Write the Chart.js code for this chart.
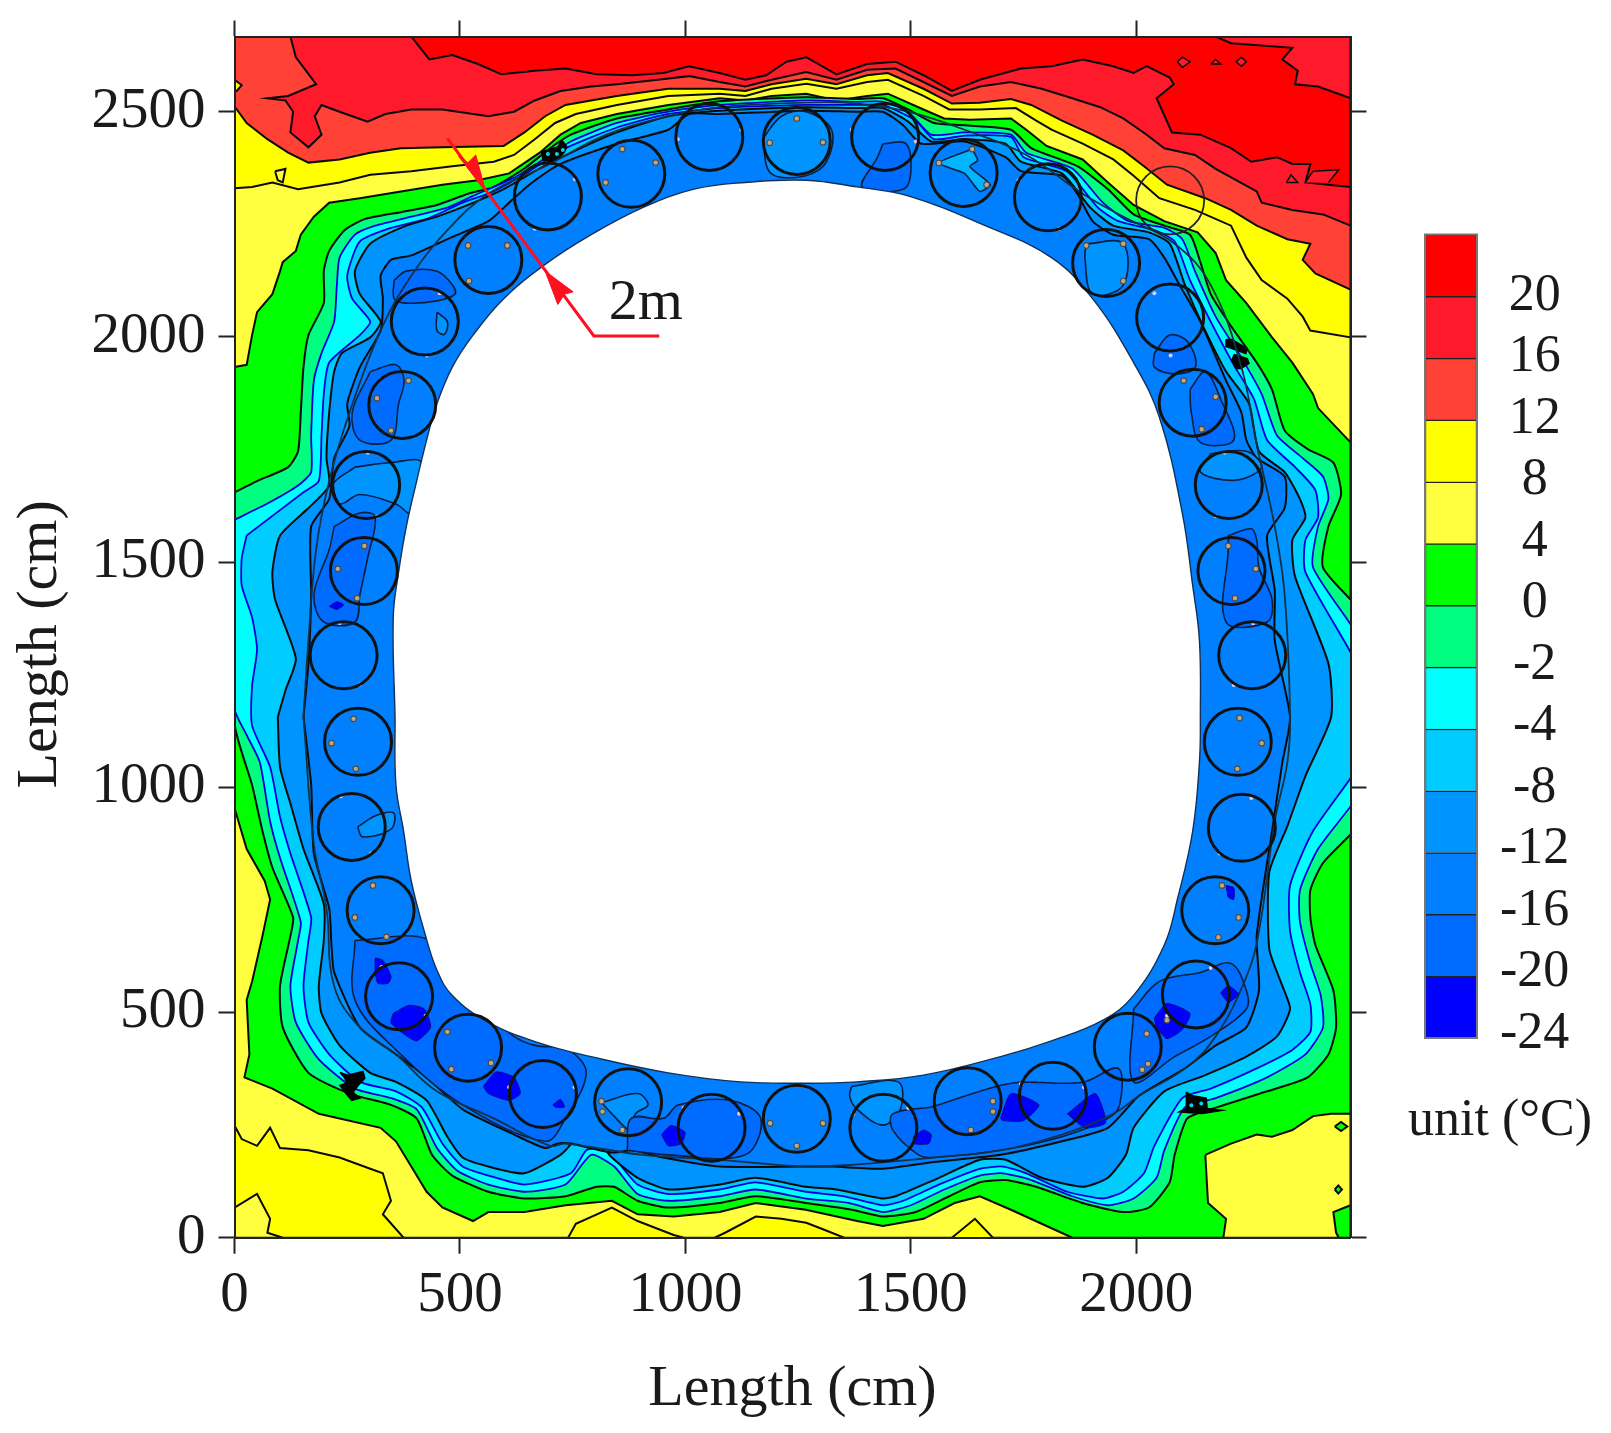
<!DOCTYPE html>
<html lang="en">
  <head>
    <meta charset="UTF-8" />
    <title>Frozen wall temperature contour</title>
    <script src="https://cdn.jsdelivr.net/npm/chart.js@4"></script>
    <style>
      body { margin: 0; background: #fff; }
      #page { position: relative; width: 1611px; height: 1433px; overflow: hidden; }
      #contour { position: absolute; left: 0; top: 0; }
      #scaleBar { position: absolute; left: 1400px; top: 220px; }
      #unit {
        position: absolute; left: 1408px; top: 1088px; white-space: nowrap;
        font: 52px "Liberation Serif", serif; color: #1a1a1a;
      }
    </style>
  </head>
  <body>
    <div id="page">
      <canvas id="contour" width="1611" height="1433"></canvas>
      <canvas id="scaleBar" width="211" height="830"></canvas>
      <div id="unit">unit (°C)</div>
    </div>

    <script>
      // axis and legend values
      const xTicks = [0, 500, 1000, 1500, 2000];
      const yTicks = [0, 500, 1000, 1500, 2000, 2500];
      const xMax = 2475;
      const yMax = 2667;
      const bandLabels = ["20", "16", "12", "8", "4", "0", "-2", "-4", "-8", "-12", "-16", "-20", "-24"];
      const bandColors = ["#ff0000", "#ff1a2b", "#ff4136", "#ffff00", "#ffff40", "#00ff00", "#00ff80", "#00ffff", "#00ccff", "#0094ff", "#0080ff", "#006cff", "#0000ff"];

      // isotherm outlines in cm
      const frame = [[0,0],[2475,0],[2475,2667],[0,2667],[0,0]];
      const iso16 = [[392,2667],[432,2616],[483,2626],[540,2606],[592,2583],[666,2591],[734,2596],[803,2583],[882,2581],[951,2586],[1008,2601],[1076,2586],[1133,2571],[1179,2581],[1224,2611],[1268,2621],[1335,2583],[1403,2606],[1466,2611],[1528,2581],[1591,2546],[1653,2571],[1744,2596],[1812,2601],[1881,2616],[1949,2601],[1994,2586],[2023,2601],[2074,2576],[2083,2561],[2045,2530],[2079,2454],[2142,2449],[2210,2419],[2255,2389],[2312,2399],[2346,2384],[2386,2384],[2375,2343],[2475,2333],[2475,0],[0,0],[0,2667]];
      const iso16Corner = [[2176,2667],[2210,2652],[2346,2642],[2324,2616],[2358,2591],[2352,2561],[2403,2556],[2475,2530],[2475,2667]];
      const iso16Specks = [[[2091,2611],[2102,2621],[2119,2611],[2102,2598],[2091,2611]], [[2165,2606],[2176,2616],[2187,2606],[2165,2606]], [[2221,2611],[2233,2621],[2244,2611],[2233,2601],[2221,2611]], [[2333,2343],[2343,2360],[2358,2343],[2333,2343]], [[2375,2343],[2392,2368],[2449,2371],[2426,2343]]];
      const iso12 = [[124,2667],[136,2621],[181,2561],[119,2535],[73,2530],[113,2525],[130,2500],[124,2454],[164,2421],[193,2449],[178,2490],[193,2515],[233,2500],[295,2478],[335,2495],[392,2505],[461,2505],[563,2490],[620,2500],[666,2525],[723,2546],[791,2556],[848,2561],[939,2571],[1008,2579],[1076,2566],[1133,2556],[1191,2571],[1268,2588],[1335,2571],[1403,2593],[1466,2596],[1528,2566],[1591,2535],[1653,2556],[1722,2566],[1790,2551],[1858,2530],[1920,2510],[1971,2485],[2023,2449],[2062,2419],[2130,2404],[2176,2373],[2267,2323],[2278,2298],[2346,2282],[2414,2272],[2475,2247],[2475,0],[0,0],[0,2667]];
      const iso8 = [[0,2512],[27,2475],[73,2439],[119,2409],[164,2387],[233,2394],[301,2409],[369,2419],[461,2421],[597,2424],[643,2454],[689,2490],[734,2515],[848,2535],[962,2551],[1076,2551],[1133,2546],[1191,2561],[1268,2573],[1335,2561],[1403,2581],[1449,2586],[1528,2551],[1591,2518],[1653,2520],[1722,2528],[1767,2515],[1835,2480],[1903,2449],[1971,2414],[2017,2379],[2068,2338],[2153,2308],[2210,2282],[2267,2247],[2335,2217],[2386,2207],[2369,2171],[2397,2141],[2475,2105],[2475,0],[0,0],[0,2512]];
      const iso8Speck = [[0,2571],[16,2559],[5,2546],[0,2546]];
      const iso4 = [[0,2330],[39,2333],[84,2343],[141,2328],[233,2343],[301,2360],[392,2368],[483,2379],[575,2389],[620,2404],[666,2439],[711,2475],[757,2495],[848,2515],[962,2535],[1076,2540],[1133,2535],[1191,2551],[1268,2562],[1335,2551],[1403,2566],[1449,2571],[1528,2535],[1585,2505],[1653,2505],[1733,2508],[1778,2480],[1812,2460],[1881,2429],[1949,2394],[1994,2358],[2051,2308],[2130,2282],[2210,2247],[2244,2176],[2278,2126],[2335,2085],[2369,2045],[2386,2014],[2475,1999],[2475,0],[0,0],[0,2330]];
      const iso4Speck = [[90,2368],[113,2373],[107,2343],[96,2348],[90,2368]];
      const warmLeft = [[0,249],[16,219],[50,204],[79,244],[101,199],[164,194],[233,178],[301,153],[329,143],[347,82],[329,52],[375,0],[107,0],[73,11],[79,42],[50,97],[0,67]];
      const warmMid1 = [[740,0],[757,31],[837,67],[894,37],[974,6],[996,0]];
      const warmMid2 = [[1065,0],[1088,11],[1156,47],[1213,42],[1268,33],[1312,16],[1352,0]];
      const warmMid3 = [[1591,0],[1642,42],[1682,0]];
      const iso0 = [[0,1933],[27,1938],[39,2004],[50,2055],[84,2095],[101,2146],[107,2166],[136,2191],[147,2227],[176,2267],[210,2298],[278,2308],[369,2323],[461,2338],[540,2348],[609,2363],[677,2409],[723,2449],[768,2475],[848,2495],[962,2515],[1076,2530],[1133,2525],[1191,2535],[1268,2540],[1335,2525],[1403,2535],[1449,2540],[1528,2505],[1574,2485],[1631,2482],[1722,2485],[1756,2460],[1801,2424],[1881,2394],[1937,2343],[1994,2293],[2062,2257],[2136,2232],[2176,2186],[2199,2126],[2244,2075],[2301,1999],[2346,1943],[2392,1873],[2403,1842],[2475,1766],[2475,0],[1858,0],[1801,26],[1722,62],[1653,92],[1597,77],[1528,42],[1438,26],[1381,37],[1267,62],[1156,77],[1076,57],[974,47],[894,52],[837,82],[734,72],[643,57],[563,57],[529,37],[461,67],[426,102],[392,158],[358,214],[324,244],[187,275],[84,331],[22,356],[33,407],[27,528],[39,569],[62,670],[79,751],[67,792],[27,863],[0,954],[0,1933]];
      const warmRight = [[2153,184],[2210,209],[2267,229],[2301,224],[2346,239],[2392,270],[2432,275],[2475,275],[2475,72],[2437,57],[2443,11],[2449,0],[2193,0],[2199,42],[2159,77],[2153,184]];
      const greenSpeck1 = [[2440,247],[2454,257],[2468,247],[2454,237],[2440,247]];
      const greenSpeck2 = [[2440,107],[2448,116],[2456,107],[2448,98],[2440,107]];
      const isoM2 = [[0,1655],[50,1680],[119,1711],[141,1746],[147,1832],[153,1933],[164,2004],[198,2075],[198,2146],[210,2191],[244,2237],[290,2262],[369,2277],[449,2293],[518,2318],[575,2333],[643,2374],[700,2419],[746,2449],[848,2485],[962,2505],[1076,2523],[1268,2532],[1381,2528],[1438,2530],[1494,2505],[1551,2475],[1619,2470],[1722,2460],[1767,2419],[1869,2379],[1937,2328],[1994,2272],[2062,2247],[2119,2227],[2142,2166],[2165,2095],[2210,2024],[2267,1943],[2301,1883],[2329,1792],[2380,1751],[2437,1721],[2454,1650],[2426,1579],[2414,1488],[2520,1356],[2520,955],[2414,832],[2386,772],[2386,711],[2397,650],[2437,549],[2443,467],[2426,407],[2380,356],[2290,325],[2165,285],[2113,265],[2085,184],[2074,123],[2028,67],[1971,57],[1881,77],[1778,113],[1710,128],[1653,123],[1585,92],[1511,57],[1438,47],[1369,62],[1267,77],[1156,92],[1076,77],[962,67],[894,82],[842,113],[803,113],[734,92],[643,87],[563,102],[483,138],[438,184],[404,265],[347,295],[255,320],[164,366],[107,467],[101,559],[124,670],[130,711],[84,822],[62,903],[39,1005],[0,1142],[0,1655]];
      const isoM4 = [[0,1594],[73,1630],[141,1670],[170,1700],[170,1781],[176,1903],[193,1964],[221,2034],[227,2115],[233,2176],[267,2227],[312,2247],[392,2267],[472,2287],[529,2313],[620,2353],[677,2389],[746,2434],[848,2475],[962,2500],[1076,2515],[1268,2525],[1381,2522],[1438,2522],[1494,2500],[1545,2449],[1619,2454],[1722,2449],[1756,2409],[1858,2374],[1926,2298],[1983,2257],[2062,2242],[2102,2217],[2130,2146],[2176,2045],[2233,1954],[2278,1873],[2312,1781],[2369,1731],[2414,1690],[2426,1640],[2403,1579],[2392,1488],[2520,1285],[2520,1029],[2403,863],[2363,772],[2363,701],[2386,609],[2409,538],[2414,467],[2375,407],[2290,356],[2176,310],[2108,290],[2062,194],[2045,133],[1994,87],[1937,72],[1858,92],[1767,128],[1704,143],[1653,138],[1574,107],[1500,72],[1438,57],[1364,77],[1267,87],[1156,107],[1076,92],[962,82],[894,97],[842,158],[791,184],[734,118],[643,102],[563,118],[495,148],[449,199],[404,285],[347,310],[267,331],[187,396],[136,478],[124,559],[141,660],[147,701],[101,843],[79,924],[56,1056],[27,1116],[0,1175],[0,1594]];
      const isoM8 = [[27,1559],[153,1655],[187,1680],[193,1781],[198,1873],[210,1943],[278,2004],[301,2034],[261,2085],[250,2136],[278,2212],[347,2242],[426,2262],[506,2298],[575,2323],[654,2368],[734,2419],[848,2465],[962,2495],[1076,2508],[1268,2515],[1381,2515],[1438,2515],[1511,2480],[1551,2439],[1619,2447],[1722,2444],[1750,2399],[1846,2368],[1915,2287],[1960,2257],[2040,2237],[2085,2212],[2119,2126],[2165,2034],[2216,1938],[2261,1862],[2290,1771],[2352,1711],[2397,1660],[2403,1599],[2375,1549],[2375,1478],[2520,1214],[2520,1091],[2392,903],[2341,782],[2341,680],[2363,589],[2386,518],[2386,457],[2346,417],[2267,376],[2165,331],[2102,310],[2040,204],[2017,143],[1971,102],[1926,87],[1847,102],[1756,143],[1704,158],[1653,153],[1562,118],[1483,82],[1438,72],[1352,92],[1267,102],[1156,123],[1076,107],[962,97],[894,118],[842,178],[814,199],[780,194],[746,143],[643,118],[563,138],[506,158],[461,209],[415,290],[358,325],[278,346],[210,407],[164,478],[153,559],[164,660],[170,711],[124,853],[101,934],[79,1045],[39,1137],[39,1225],[50,1306],[39,1377],[16,1448],[16,1508],[27,1559]];
      const isoM12 = [[96,1156],[113,1215],[136,1286],[90,1417],[84,1478],[101,1559],[164,1620],[210,1670],[204,1731],[210,1832],[221,1923],[238,1964],[301,1999],[324,2034],[278,2095],[267,2146],[301,2207],[381,2247],[449,2267],[518,2293],[597,2328],[677,2374],[757,2414],[848,2454],[962,2490],[1076,2502],[1268,2510],[1381,2508],[1438,2508],[1494,2478],[1545,2434],[1619,2439],[1710,2429],[1744,2389],[1835,2363],[1898,2287],[1949,2247],[2028,2232],[2074,2207],[2108,2115],[2148,2024],[2199,1923],[2250,1852],[2272,1746],[2329,1700],[2363,1640],[2375,1599],[2346,1549],[2352,1468],[2426,1275],[2432,1156],[2375,1025],[2335,914],[2295,812],[2295,640],[2324,559],[2341,508],[2312,447],[2244,402],[2153,361],[2062,325],[1994,244],[1977,184],[1937,133],[1881,113],[1790,133],[1710,173],[1653,173],[1551,128],[1466,92],[1438,87],[1335,107],[1267,113],[1156,133],[1076,118],[962,107],[894,133],[837,178],[814,209],[791,280],[768,280],[746,209],[723,184],[643,143],[563,158],[506,178],[472,224],[426,305],[358,346],[301,366],[233,427],[193,498],[187,559],[198,660],[198,741],[153,863],[124,964],[101,1045],[96,1156]];
      const isoM16 = [[153,1156],[164,1275],[170,1427],[170,1579],[210,1640],[221,1731],[255,1802],[250,1852],[278,1933],[324,2014],[329,2085],[324,2136],[347,2171],[392,2181],[483,2222],[563,2257],[609,2298],[654,2338],[723,2384],[848,2429],[962,2460],[1008,2495],[1076,2495],[1268,2502],[1381,2500],[1438,2500],[1483,2470],[1523,2429],[1619,2434],[1710,2399],[1744,2368],[1835,2358],[1869,2318],[1903,2257],[1949,2227],[2028,2217],[2062,2176],[2096,2115],[2142,2034],[2199,1903],[2233,1832],[2244,1771],[2267,1731],[2329,1690],[2329,1620],[2290,1559],[2307,1437],[2307,1326],[2341,1156],[2324,1056],[2301,903],[2267,670],[2272,549],[2244,467],[2176,427],[2108,376],[2006,315],[1937,244],[1835,214],[1699,184],[1551,168],[1438,153],[1324,158],[1267,158],[1076,158],[951,178],[882,194],[837,189],[746,209],[717,209],[689,199],[620,229],[506,285],[426,356],[358,407],[278,467],[221,589],[215,650],[210,731],[176,853],[170,1005],[153,1156]];
      const lightPatches = [
        [[267,1711],[347,1721],[415,1721],[392,1609],[358,1629],[278,1650],[233,1629],[216,1670],[267,1711]],
        [[1171,2439],[1213,2490],[1268,2500],[1324,2460],[1313,2389],[1267,2358],[1190,2363],[1171,2439]],
        [[2165,1741],[2244,1746],[2278,1711],[2221,1682],[2142,1700],[2165,1741]],
        [[1889,2207],[1971,2207],[1971,2115],[1903,2095],[1886,2176],[1889,2207]],
        [[1369,336],[1472,346],[1477,285],[1438,250],[1381,285],[1364,315],[1369,336]],
        [[814,300],[894,320],[917,295],[889,275],[877,239],[837,275],[814,300]],
        [[273,912],[313,937],[353,943],[347,907],[284,890],[273,912]],
        [[449,2055],[472,2034],[466,2006],[449,2014],[449,2055]]
      ];
      const paleSpot = [[1636,2417],[1648,2392],[1631,2378],[1676,2338],[1653,2323],[1619,2363],[1562,2386],[1636,2417]];
      const darkPatches = [
        [[354,2126],[381,2146],[449,2146],[483,2116],[489,2095],[449,2080],[381,2075],[354,2085],[354,2126]],
        [[301,1923],[358,1938],[376,1903],[364,1852],[347,1771],[278,1771],[261,1832],[301,1923]],
        [[221,1579],[278,1609],[312,1601],[295,1508],[278,1427],[267,1367],[198,1367],[176,1427],[210,1528],[221,1579]],
        [[2204,1559],[2255,1574],[2267,1549],[2272,1488],[2301,1417],[2290,1367],[2199,1367],[2204,1529],[2204,1559]],
        [[2119,1883],[2153,1923],[2187,1862],[2216,1771],[2142,1766],[2122,1832],[2119,1883]],
        [[2040,1964],[2074,2004],[2114,1989],[2131,1933],[2085,1918],[2040,1933],[2040,1964]],
        [[1438,2429],[1489,2429],[1500,2368],[1483,2328],[1392,2333],[1426,2399],[1438,2429]],
        [[871,194],[962,184],[1133,184],[1167,265],[1099,305],[985,295],[951,265],[880,265],[871,194]],
        [[1545,290],[1687,335],[1744,345],[1881,345],[1960,376],[1963,295],[1937,265],[1835,224],[1699,194],[1551,178],[1517,184],[1460,239],[1460,275],[1545,290]],
        [[267,660],[426,663],[461,579],[620,447],[666,427],[740,417],[780,366],[734,265],[689,214],[506,295],[358,417],[267,528],[267,660]],
        [[1994,508],[2051,569],[2142,589],[2210,609],[2244,549],[2244,508],[2165,447],[2085,402],[1994,346],[1994,508]]
      ];
      const coldSpots = [
        [[312,621],[329,616],[347,580],[341,565],[318,565],[312,590],[312,621]],
        [[352,498],[387,516],[421,508],[435,467],[404,437],[376,452],[347,477],[352,498]],
        [[552,336],[580,368],[620,356],[634,320],[609,305],[563,320],[552,336]],
        [[706,295],[723,307],[732,290],[711,290],[706,295]],
        [[947,229],[968,249],[999,234],[991,209],[962,204],[947,229]],
        [[210,1402],[227,1412],[242,1405],[227,1395],[210,1402]],
        [[1506,224],[1528,239],[1545,229],[1540,209],[1506,209],[1506,224]],
        [[1699,265],[1722,320],[1784,295],[1750,260],[1704,260],[1699,265]],
        [[1847,275],[1909,320],[1932,255],[1886,244],[1847,275]],
        [[2040,488],[2068,520],[2119,498],[2102,462],[2068,442],[2045,467],[2040,488]],
        [[2187,544],[2204,559],[2227,541],[2204,523],[2187,544]],
        [[2199,782],[2216,777],[2216,751],[2204,756],[2199,782]]
      ];
      // spots where the plotting program piled its contour labels on top of each other
      const smudges = [
        [[234,367],[251,361],[285,369],[289,354],[274,338],[263,323],[278,310],[260,305],[245,323],[234,338],[249,343],[245,354],[234,367]],
        [[2199,1994],[2212,1994],[2246,1974],[2243,1963],[2212,1974],[2201,1978],[2199,1994]],
        [[2217,1961],[2246,1952],[2250,1941],[2232,1930],[2221,1930],[2212,1949],[2217,1961]],
        [[681,2411],[717,2422],[726,2437],[737,2422],[732,2411],[726,2404],[706,2388],[684,2393],[681,2411]],
        [[2111,323],[2122,316],[2155,310],[2157,287],[2190,283],[2146,276],[2095,279],[2111,287],[2111,323]]
      ];
      const smudgeGaps = [[695,2406],[715,2406],[728,2415],[2122,294],[2144,298]];
      const tunnelHole = [[356,1157],[352,1377],[364,1478],[381,1579],[404,1680],[426,1771],[449,1852],[483,1933],[529,2004],[597,2085],[689,2161],[791,2227],[905,2287],[1019,2328],[1133,2343],[1268,2348],[1381,2333],[1494,2313],[1665,2247],[1812,2176],[1903,2085],[1994,1943],[2051,1822],[2102,1609],[2125,1448],[2140,1326],[2142,1156],[2140,1056],[2125,903],[2091,751],[2062,650],[1994,538],[1926,483],[1812,437],[1699,402],[1528,361],[1381,346],[1267,343],[1122,346],[962,366],[791,402],[677,432],[563,478],[483,538],[449,594],[421,680],[392,792],[375,903],[358,1005],[356,1157]];
      const archLine = [[153,1157],[164,1326],[181,1528],[210,1680],[255,1832],[324,2014],[392,2136],[472,2237],[563,2318],[689,2379],[825,2449],[962,2490],[1076,2510],[1268,2520],[1381,2518],[1494,2500],[1619,2460],[1756,2404],[1881,2318],[1971,2267],[2085,2207],[2165,2115],[2233,1933],[2267,1761],[2307,1579],[2329,1427],[2341,1156],[2335,1056],[2307,924],[2272,680],[2244,579],[2176,447],[2108,376],[2006,315],[1949,275],[1835,229],[1699,194],[1551,178],[1381,163],[1267,158],[1076,173],[905,184],[734,209],[700,204],[575,265],[449,325],[358,407],[278,467],[221,559],[204,731],[176,873],[153,1157]];

      // freeze pipes and the sensor holes next to them
      const pipes = [[1053,2444],[1247,2435],[1443,2444],[1617,2364],[1804,2310],[1933,2164],[2075,2043],[2125,1854],[2205,1671],[2211,1480],[2257,1293],[2225,1101],[2234,910],[2175,727],[2132,540],[1981,424],[1815,315],[1626,303],[1439,244],[1247,264],[1058,244],[873,301],[684,319],[518,422],[365,536],[324,727],[260,912],[274,1101],[242,1293],[287,1480],[292,1671],[372,1849],[422,2034],[563,2171],[695,2312],[880,2362]];
      const thinPipe = [[2075,2303]];
      const sensorsGrey = [[860,2417],[934,2387],[823,2343],[518,2203],[605,2203],[520,2124],[386,1903],[316,1864],[347,1792],[288,1536],[229,1485],[272,1420],[1187,2431],[1247,2485],[1305,2432],[1562,2386],[1636,2417],[1668,2338],[1889,2203],[1971,2207],[1971,2124],[2105,1903],[2176,1867],[2145,1795],[2204,1536],[2265,1485],[2219,1420],[264,1152],[215,1098],[269,1041],[307,782],[267,711],[337,668],[472,457],[569,388],[481,374],[814,303],[816,280],[860,239],[1188,254],[1247,204],[1305,254],[1682,303],[1682,280],[1633,239],[2023,453],[2026,386],[2013,373],[2068,483],[2190,782],[2227,711],[2182,667],[2229,1154],[2278,1098],[2224,1041]];
      const sensorsPale = [[755,2350],[666,2240],[455,2097],[426,1959],[296,1743],[316,1601],[233,1365],[278,1228],[983,2439],[1124,2460],[1369,2460],[1511,2434],[1739,2348],[1829,2240],[2040,2097],[2076,1959],[2196,1743],[2176,1602],[2259,1364],[2216,1227],[236,980],[303,853],[326,601],[424,493],[609,334],[754,334],[996,288],[1119,275],[1372,275],[1494,288],[1744,341],[1884,334],[2068,493],[2165,599],[2255,976],[2185,853]];

      // the 2m marker
      const markerLine = [[472,2441],[797,2002],[942,2002]];
      const markerHeadTop = [[557,2323],[497,2401],[518,2387],[535,2404],[557,2323]];
      const markerHeadLow = [[689,2146],[751,2100],[732,2095],[717,2072],[689,2146]];
      const markerText = [830, 2040];

      const xy = (list) => list.map(([x, y]) => ({ x, y }));
      const serif = '"Liberation Serif", serif';
      const ink = "#1a1a1a";

      function zone(outline, color, line = "#0a0a0a", width = 2, tension = 0) {
        return {
          data: xy(outline), showLine: true, fill: "shape", tension,
          backgroundColor: color, borderColor: line, borderWidth: width, pointRadius: 0,
        };
      }
      function dots(list, radius, fillColor, edge, width) {
        return {
          data: xy(list), showLine: false, pointStyle: "circle", pointRadius: radius,
          pointBackgroundColor: fillColor, pointBorderColor: edge, pointBorderWidth: width,
        };
      }

      const c = bandColors;
      const blueLine = "#0000d8";
      const softLine = "#0a1e40";
      const layers = [
        zone(frame, c[0]),
        zone(iso16, c[1]),
        zone(iso16Corner, c[1]),
        ...iso16Specks.map((s) => zone(s, c[1], "#0a0a0a", 1.5)),
        zone(iso12, c[2]),
        zone(iso8, c[3]),
        zone(iso8Speck, c[3]),
        zone(iso4, c[4]),
        zone(iso4Speck, c[4]),
        zone(warmLeft, c[3]),
        zone(warmMid1, c[3]),
        zone(warmMid2, c[3]),
        zone(warmMid3, c[3]),
        zone(iso0, c[5]),
        zone(warmRight, c[4]),
        zone(greenSpeck1, c[5]),
        zone(greenSpeck2, c[5]),
        zone(isoM2, c[6], "#0a0a0a", 2, 0.2),
        zone(isoM4, c[7], blueLine, 1.8, 0.2),
        zone(isoM8, c[8], blueLine, 1.8, 0.2),
        zone(isoM12, c[9], "#0a0a0a", 2, 0.2),
        zone(isoM16, c[10], "#0a0a0a", 2, 0.2),
        ...lightPatches.map((p) => zone(p, c[9], softLine, 1.6, 0.35)),
        zone(paleSpot, "#00b4ff", softLine, 1.6, 0.2),
        ...darkPatches.map((p) => zone(p, c[11], softLine, 1.6, 0.35)),
        ...coldSpots.map((p) => zone(p, c[12], "#0a0a8a", 1, 0.2)),
        ...smudges.map((p) => zone(p, "#000", "#000", 1.5)),
        dots(smudgeGaps, 2, "#00d8e8", "#00d8e8", 0),
        zone(tunnelHole, "#ffffff", "#10305a", 1.4, 0.4),
        { data: xy(archLine), showLine: true, fill: false, tension: 0.4, borderColor: "#123048", borderWidth: 1.8, pointRadius: 0 },
        dots(sensorsGrey, 2.8, "#c0a880", "#4a4a4a", 1.2),
        dots(sensorsPale, 2, "#ecc8dc", "#ecc8dc", 0),
        dots(pipes, 33.5, "rgba(0,0,0,0)", "#111", 3),
        dots(thinPipe, 34, "rgba(0,0,0,0)", "#222", 1.8),
        { data: xy(markerLine), showLine: true, fill: false, borderColor: "#ff1020", borderWidth: 3, pointRadius: 0 },
        zone(markerHeadTop, "#ff1020", "#ff1020", 1),
        zone(markerHeadLow, "#ff1020", "#ff1020", 1),
      ];

      // the 2m label sits at a data position on the chart
      const markerLabel = {
        id: "markerLabel",
        afterDatasetsDraw(chart) {
          const { ctx, scales } = chart;
          ctx.save();
          ctx.font = "58px " + serif;
          ctx.fillStyle = ink;
          ctx.textAlign = "left";
          ctx.textBaseline = "alphabetic";
          ctx.fillText("2m", scales.x.getPixelForValue(markerText[0]), scales.y.getPixelForValue(markerText[1]));
          ctx.restore();
        },
      };

      // pin the axis box, otherwise label overhang pushes the plot area inward
      function fixedSize(prop, size) {
        return (axis) => {
          axis[prop] = size;
          axis.paddingTop = axis.paddingBottom = axis.paddingLeft = axis.paddingRight = 0;
        };
      }
      function tickValues(list) {
        return (axis) => { axis.ticks = list.map((value) => ({ value })); };
      }
      const plainTick = (value) => String(value);
      const tickGrid = { drawOnChartArea: false, drawTicks: true, tickLength: 16, tickWidth: 2, tickColor: "#222" };
      const frameLine = { display: true, color: "#222", width: 2, z: 1 };
      const tickFont = { family: serif, size: 57 };

      new Chart(document.getElementById("contour"), {
        type: "scatter",
        data: { datasets: layers.reverse() },
        plugins: [markerLabel],
        options: {
          responsive: false,
          animation: false,
          events: [],
          // the tick labels hold the plot top about 3px too low
          layout: { padding: { top: -3 } },
          plugins: { legend: { display: false }, tooltip: { enabled: false } },
          scales: {
            x: {
              type: "linear", min: 0, max: xMax, position: "bottom",
              afterBuildTicks: tickValues(xTicks), afterFit: fixedSize("height", 195.3),
              grid: tickGrid, border: frameLine,
              ticks: { font: tickFont, color: ink, padding: 8, maxRotation: 0, autoSkip: false, includeBounds: false, callback: plainTick },
              title: { display: true, text: "Length (cm)", font: { family: serif, size: 58 }, color: ink, padding: { top: 0, bottom: 8 } },
            },
            y: {
              type: "linear", min: 0, max: yMax, position: "left",
              afterBuildTicks: tickValues(yTicks), afterFit: fixedSize("width", 234.5),
              grid: tickGrid, border: frameLine,
              ticks: { font: tickFont, color: ink, padding: 13, autoSkip: false, includeBounds: false, callback: plainTick },
              title: { display: true, text: "Length (cm)\u00a0", font: { family: serif, size: 58 }, color: ink, padding: { top: 6, bottom: 0 } },
            },
            xTop: {
              type: "linear", min: 0, max: xMax, position: "top",
              afterBuildTicks: tickValues(xTicks), afterFit: fixedSize("height", 34),
              grid: tickGrid, border: frameLine,
              ticks: { display: false, includeBounds: false },
            },
            yRight: {
              type: "linear", min: 0, max: yMax, position: "right",
              afterBuildTicks: tickValues(yTicks), afterFit: fixedSize("width", 260.5),
              grid: tickGrid, border: frameLine,
              ticks: { display: false, includeBounds: false },
            },
          },
        },
      });

      // colour scale: one stacked cell per band, coldest at the bottom
      const cellBox = {
        id: "cellBox",
        afterDatasetsDraw(chart) {
          const { ctx, chartArea: a } = chart;
          ctx.save();
          ctx.strokeStyle = "#777";
          ctx.lineWidth = 2;
          ctx.strokeRect(a.left, a.top, a.right - a.left, a.bottom - a.top);
          ctx.restore();
        },
      };
      const cellValues = bandColors.map(() => 1);
      const labelStart = 12.0;
      const labelStep = 0.995;

      new Chart(document.getElementById("scaleBar"), {
        type: "bar",
        data: {
          labels: ["band"],
          datasets: cellValues.map((value, i) => ({
            data: [value],
            backgroundColor: bandColors[bandColors.length - 1 - i],
            borderColor: "#222",
            borderWidth: 1.5,
            barPercentage: 1,
            categoryPercentage: 1,
          })),
        },
        plugins: [cellBox],
        options: {
          responsive: false,
          animation: false,
          events: [],
          layout: { padding: { left: 25, top: 14.5, bottom: 12 } },
          plugins: { legend: { display: false }, tooltip: { enabled: false } },
          scales: {
            x: { stacked: true, display: false },
            y: {
              stacked: true, min: 0, max: 13, position: "right",
              afterBuildTicks: (axis) => {
                axis.ticks = bandLabels.map((_, i) => ({ value: labelStart - labelStep * i }));
              },
              afterFit: fixedSize("width", 134),
              grid: { display: false, drawTicks: false },
              border: { display: false },
              ticks: {
                font: { family: serif, size: 52 }, color: ink, padding: 23, crossAlign: "center", autoSkip: false,
                callback: (value, index) => bandLabels[index],
              },
            },
          },
        },
      });
    </script>
  </body>
</html>
